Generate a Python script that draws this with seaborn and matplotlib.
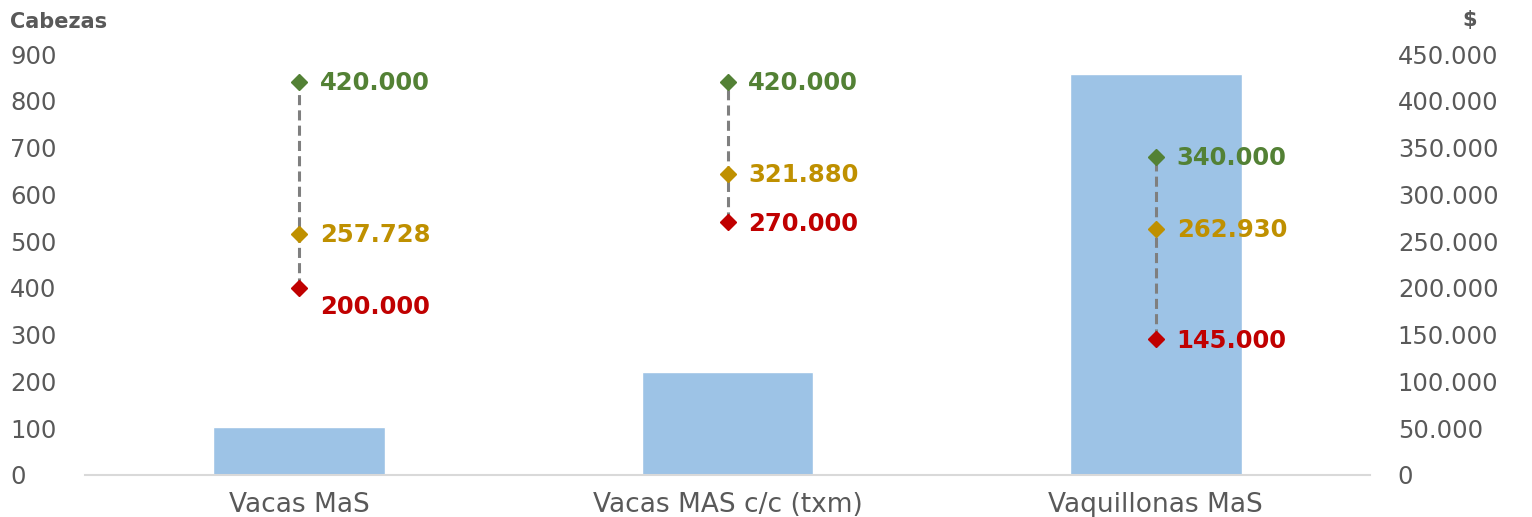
import matplotlib
matplotlib.use("Agg")
import matplotlib.pyplot as plt
import seaborn as sns
import pandas as pd
from matplotlib.transforms import offset_copy

categories = ["Vacas MaS", "Vacas MAS c/c (txm)", "Vaquillonas MaS"]
cabezas = [103, 220, 857]
precio_max = [420000, 420000, 340000]
precio_prom = [257728, 321880, 262930]
precio_min = [200000, 270000, 145000]
left_ticks = [0, 100, 200, 300, 400, 500, 600, 700, 800, 900]
right_ticks = [0, 50000, 100000, 150000, 200000, 250000, 300000, 350000, 400000, 450000]

def fmt(v):
    return f"{v:,}".replace(",", ".")

sns.set_theme(style="white")
FONT = "DejaVu Sans"
plt.rcParams['font.family'] = [FONT]

TXT = "#595959"
GREEN = "#538135"
GOLD = "#BF9000"
RED = "#C00000"
BAR = "#9DC3E6"

fig = plt.figure(figsize=(15.32, 5.17), dpi=100)
ax = fig.add_axes([85/1532, 1-475/517, (1370-85)/1532, (475-54)/517])

df = pd.DataFrame({"cat": categories, "cab": cabezas})
sns.barplot(data=df, x="cat", y="cab", color=BAR, width=0.4, saturation=1, ax=ax, zorder=1)
ax.set_xlim(-0.5, 2.5)
ax.set_ylim(0, 900)
ax.set_yticks(left_ticks)
ax.set_yticklabels([str(t) for t in left_ticks])
ax.set_xlabel("")
ax.set_ylabel("")
for s in ["top", "left", "right"]:
    ax.spines[s].set_visible(False)
ax.spines["bottom"].set_color("#D9D9D9")
ax.spines["bottom"].set_linewidth(1.5)
ax.tick_params(axis="y", length=0, pad=54, labelsize=17.5, labelcolor=TXT)
for lbl in ax.get_yticklabels():
    lbl.set_horizontalalignment("left")
ax.tick_params(axis="x", length=0, pad=12, labelsize=19, labelcolor=TXT)

ax2 = ax.twinx()
ax2.set_ylim(0, 450000)
ax2.set_yticks(right_ticks)
ax2.set_yticklabels([fmt(t) for t in right_ticks])
for s in ["top", "left", "right", "bottom"]:
    ax2.spines[s].set_visible(False)
ax2.tick_params(axis="y", length=0, pad=20, labelsize=17.5, labelcolor=TXT)

xs = list(range(len(categories)))
ax2.vlines(xs, precio_min, precio_max, colors="#7F7F7F", linestyles=(0, (3.3, 1.7)), linewidth=2.2, zorder=2)
ax2.plot(xs, precio_max, linestyle="none", marker="D", markersize=8.5, color=GREEN, zorder=3)
ax2.plot(xs, precio_prom, linestyle="none", marker="D", markersize=8.5, color=GOLD, zorder=3)
ax2.plot(xs, precio_min, linestyle="none", marker="D", markersize=8.5, color=RED, zorder=3)

for i in xs:
    for vals, col in [(precio_max, GREEN), (precio_prom, GOLD), (precio_min, RED)]:
        dy = 0
        if i == 0 and vals is precio_min:
            dy = -13
        tr = offset_copy(ax2.transData, fig=fig, x=15, y=dy - 1, units="points")
        ax2.text(i, vals[i], fmt(vals[i]), transform=tr, color=col, fontsize=17.5,
                 fontweight="bold", ha="left", va="center")

fig.text(10/1532, 1-22/517, "Cabezas", color=TXT, fontsize=15, fontweight="bold", ha="left", va="center")
fig.text(1470/1532, 1-20/517, "$", color=TXT, fontsize=15, fontweight="bold", ha="center", va="center")

fig.savefig("out.png", dpi=100)
